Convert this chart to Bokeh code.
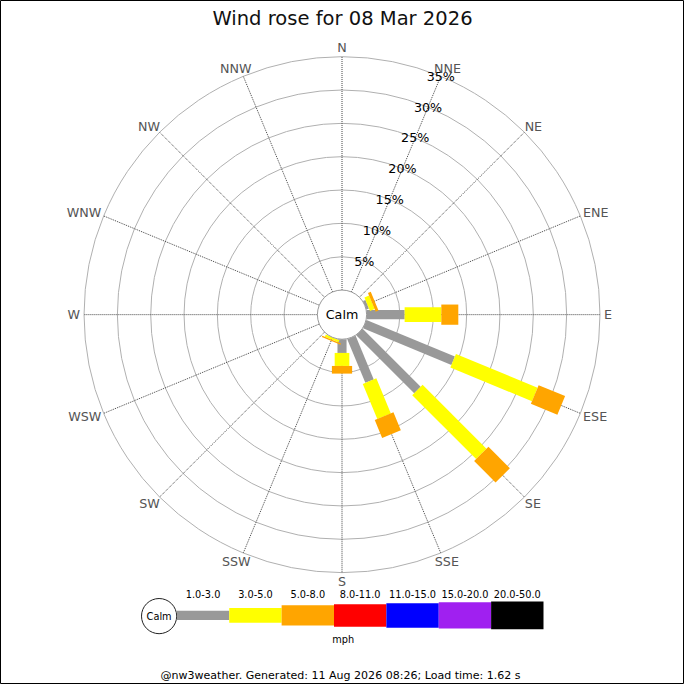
import math
from bokeh.plotting import figure
from bokeh.models import Range1d
from bokeh.core.properties import value
from bokeh.embed import file_html
from bokeh.resources import INLINE

# ---------------- data ----------------
title_text = "Wind rose for 08 Mar 2026"
footer_text = "@nw3weather. Generated: 11 Aug 2026 08:26; Load time: 1.62 s"
directions = ["N", "NNE", "NE", "ENE", "E", "ESE", "SE", "SSE",
              "S", "SSW", "SW", "WSW", "W", "WNW", "NW", "NNW"]
speed_bins = ["1.0-3.0", "3.0-5.0", "5.0-8.0", "8.0-11.0",
              "11.0-15.0", "15.0-20.0", "20.0-50.0"]
speed_unit = "mph"
# percentage of time per direction, per speed bin
pct_1_3 = [0, 0, 0, 0.4, 5.7, 14.35, 12.3, 7.1, 2.05, 0.0, 0, 0, 0, 0, 0, 0]
pct_3_5 = [0, 0, 0, 0.75, 5.5, 13.25, 13.55, 5.7, 1.95, 0.35, 0, 0, 0, 0, 0, 0]
pct_5_8 = [0, 0, 0, 0.45, 2.55, 4.3, 4.55, 2.9, 1.15, 0.2, 0, 0, 0, 0, 0, 0]
series = [pct_1_3, pct_3_5, pct_5_8]
ring_ticks = [5, 10, 15, 20, 25, 30, 35]
ring_tick_labels = ["5%", "10%", "15%", "20%", "25%", "30%", "35%"]

# ---------------- styling ----------------
bin_colors = ["#999999", "#ffff00", "#ffa500", "#ff0000", "#0000ff", "#a020f0", "#000000"]
bin_widths = [9.3, 15.0, 20.7, 23.0, 25.0, 27.0, 28.3]
FONT = value("DejaVu Sans")

W = H = 684
REF = 700.0                    # design space (reference pixels)
S = W / REF                    # screen px per design unit
CX, CY = 349.5, 321.5          # rose centre in design space (from top-left)
CALM_R = 25.2
PX_PER_PCT = 6.823


def fpx(size):
    return "%.2fpx" % (size * S)


def R(p):
    return CALM_R + PX_PER_PCT * p


def ref(x, y):
    return x - CX, CY - y


p = figure(width=W, height=H, output_backend="svg", toolbar_location=None,
           x_range=Range1d(-CX, REF - CX), y_range=Range1d(CY - REF, CY),
           x_axis_type=None, y_axis_type=None, min_border=0,
           background_fill_color="white", border_fill_color="white")
p.grid.visible = False
p.outline_line_color = "black"
p.outline_line_width = 1

R_OUT = R(max(ring_ticks))

# rings
p.circle(x=[0] * len(ring_ticks), y=[0] * len(ring_ticks),
         radius=[R(t) for t in ring_ticks],
         fill_color=None, line_color="#b0b0b0", line_width=1)

# spokes
bearings = [i * 22.5 for i in range(len(directions))]
sx = [math.sin(math.radians(b)) for b in bearings]
sy = [math.cos(math.radians(b)) for b in bearings]
p.segment(x0=[CALM_R * a for a in sx], y0=[CALM_R * b for b in sy],
          x1=[R_OUT * a for a in sx], y1=[R_OUT * b for b in sy],
          line_color="#444444", line_width=1, line_dash="1 1")

# bars
cum = [0.0] * len(directions)
for k, ser in enumerate(series):
    xs, ys, ls, angs = [], [], [], []
    for i, v in enumerate(ser):
        if v <= 0:
            continue
        r0, r1 = R(cum[i]), R(cum[i] + v)
        rm = 0.5 * (r0 + r1)
        xs.append(rm * sx[i])
        ys.append(rm * sy[i])
        ls.append(r1 - r0)
        angs.append(math.pi / 2 - math.radians(bearings[i]))
        cum[i] += v
    p.rect(x=xs, y=ys, width=ls, height=bin_widths[k], angle=angs,
           fill_color=bin_colors[k], line_color=None)

# calm circle
p.circle(x=[0], y=[0], radius=CALM_R, fill_color="white",
         line_color="#999999", line_width=1)
p.text(x=[0], y=[0], text=["Calm"], text_align="center", text_baseline="middle",
       text_font=FONT, text_font_size=fpx(13), text_color="black")

# percent labels along NNE spoke
lab_b = math.radians(22.5)
p.text(x=[R(t) * math.sin(lab_b) for t in ring_ticks],
       y=[R(t) * math.cos(lab_b) for t in ring_ticks],
       text=ring_tick_labels, text_align="center", text_baseline="middle",
       text_font=FONT, text_font_size=fpx(13), text_color="black")

# direction labels
em = {"N": 0.748, "E": 0.632, "S": 0.635, "W": 0.989}
fs = 13.0
lx, ly = [], []
for i, d in enumerate(directions):
    w = sum(em[c] for c in d) * fs
    h = 10.0
    ax, ay = (R_OUT + 4) * sx[i], (R_OUT + 4) * sy[i]
    lx.append(ax + sx[i] * w / 2)
    ly.append(ay + sy[i] * h / 2)
p.text(x=lx, y=ly, text=directions, text_align="center", text_baseline="middle",
       text_font=FONT, text_font_size=fpx(13), text_color="#555555")

# title
tx, ty = ref(350, 18)
p.text(x=[tx], y=[ty], text=[title_text], text_align="center", text_baseline="middle",
       text_font=FONT, text_font_size=fpx(20), text_color="#111111")

# legend
lcx, lcy = ref(162.3, 630)
p.circle(x=[lcx], y=[lcy], radius=18, fill_color="white", line_color="#222222", line_width=1)
p.text(x=[lcx], y=[lcy], text=["Calm"], text_align="center", text_baseline="middle",
       text_font=FONT, text_font_size=fpx(10), text_color="black")
seg_w = 53.6
x_start = 180.5
bx = [ref(x_start + seg_w * (k + 0.5), 0)[0] for k in range(len(speed_bins))]
by = ref(0, 629.3)[1]
p.rect(x=bx, y=[by] * len(bx), width=seg_w, height=bin_widths[:len(bx)],
       fill_color=bin_colors[:len(bx)], line_color=None)
p.text(x=bx, y=[ref(0, 607)[1]] * len(bx), text=speed_bins, text_align="center",
       text_baseline="middle", text_font=FONT, text_font_size=fpx(10), text_color="black")
mx, my = ref(350.7, 654)
p.text(x=[mx], y=[my], text=[speed_unit], text_align="center", text_baseline="middle",
       text_font=FONT, text_font_size=fpx(10), text_color="black")

# footer
fx, fy = ref(348, 691)
p.text(x=[fx], y=[fy], text=[footer_text], text_align="center", text_baseline="middle",
       text_font=FONT, text_font_size=fpx(11.3), text_color="black")

open("out.html", "w").write(file_html(p, INLINE))
